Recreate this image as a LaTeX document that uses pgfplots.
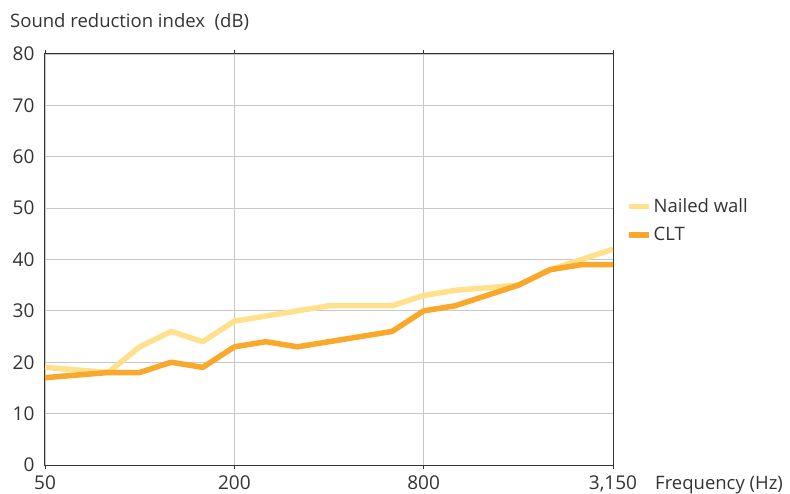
\documentclass[border=0pt]{standalone}
\usepackage{pgfplots}
\pgfplotsset{compat=1.18}
\usepackage{fontspec}
\setmainfont{Open Sans}
\definecolor{nailed}{HTML}{FFE08C}
\definecolor{clt}{HTML}{F9A82B}
\definecolor{txt}{HTML}{333333}
\definecolor{gridc}{HTML}{C8C8C8}
\begin{document}
\begin{tikzpicture}[x=1pt,y=1pt]
\useasboundingbox (-45,-28) rectangle (745,465);
\begin{axis}[
  at={(0,0)}, anchor=south west,
  scale only axis, width=568pt, height=411pt,
  xmin=0, xmax=18, ymin=0, ymax=80,
  xtick={0,6,12,18}, xticklabels={50,200,800,{3,150}},
  ytick={0,10,...,80},
  grid=major, major grid style={gridc, line width=0.8pt},
  axis line style={txt, line width=1pt},
  tick align=outside, major tick length=4pt,
  xtick style={txt, line width=0.8pt},
  ytick style={draw=none},
  tick label style={font=\fontsize{19}{19}\selectfont, text=txt},
  /pgf/number format/assume math mode=true,
  yticklabel style={xshift=-3pt},
  xticklabel style={yshift=-3pt},
  legend style={at={(rel axis cs:1,0.658)}, anchor=north west, draw=none, fill=none,
    font=\fontsize{18.5}{18.5}\selectfont, text=txt, row sep=9pt, xshift=10pt},
  legend cell align=left,
  legend image code/.code={\draw[#1, line width=5.5pt] (0pt,0pt) -- (20pt,0pt);},
  every axis plot/.append style={line width=5.5pt, line join=round},
]
\addplot[nailed] coordinates {
(0,19) (1,18.5) (2,18) (3,23) (4,26) (5,24) (6,28) (7,29) (8,30) (9,31)
(10,31) (11,31) (12,33) (13,34) (14,34.5) (15,35) (16,38) (17,40) (18,42)};
\addlegendentry{Nailed wall}
\addplot[clt] coordinates {
(0,17) (1,17.5) (2,18) (3,18) (4,20) (5,19) (6,23) (7,24) (8,23) (9,24)
(10,25) (11,26) (12,30) (13,31) (14,33) (15,35) (16,38) (17,39) (18,39)};
\addlegendentry{CLT}
\end{axis}
\node[anchor=base west, text=txt, font=\fontsize{18.5}{18.5}\selectfont, inner sep=0pt] at (610,-24) {Frequency (Hz)};
\node[anchor=base west, text=txt, font=\fontsize{18.5}{18.5}\selectfont, inner sep=0pt] at (-35,437) {Sound reduction index\ \ (dB)};
\end{tikzpicture}
\end{document}
